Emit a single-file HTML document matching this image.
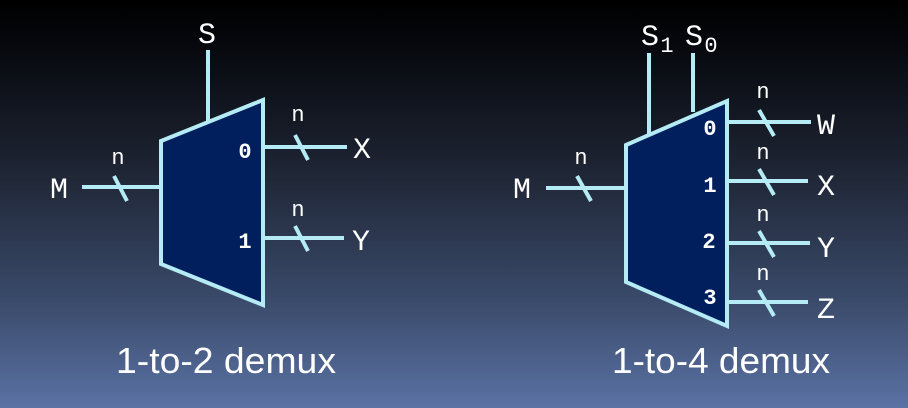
<!DOCTYPE html>
<html><head><style>
html,body{margin:0;padding:0;}
body{width:908px;height:408px;overflow:hidden;background:linear-gradient(to bottom,#000 0px,#05070c 40px,#1c2230 160px,#3a4a6a 300px,#5a72a4 408px);}
svg{display:block}
.mono{font-family:"Liberation Mono",monospace;fill:#fff;}
.b{font-family:"Liberation Mono",monospace;font-weight:bold;fill:#fff;font-size:22px;}
</style></head><body>
<svg width="908" height="408" viewBox="0 0 908 408">
<g stroke="#b4ebf5" stroke-width="4" fill="none">
<polygon points="161,141 263,100 263,305 161,264" fill="#001f5c"/>
<line x1="208" y1="50" x2="208" y2="122"/>
<line x1="82" y1="187" x2="161" y2="187"/>
<line x1="114" y1="176" x2="127" y2="201"/>
<line x1="263" y1="147" x2="347" y2="147"/>
<line x1="295" y1="135" x2="308" y2="160"/>
<line x1="263" y1="238" x2="344" y2="238"/>
<line x1="295" y1="226" x2="308" y2="251"/>
<polygon points="626,145 727,101 727,326 626,282" fill="#001f5c"/>
<line x1="649" y1="53" x2="649" y2="135"/>
<line x1="693" y1="53" x2="693" y2="112"/>
<line x1="546" y1="188" x2="626" y2="188"/>
<line x1="577" y1="176" x2="591" y2="201"/>
<line x1="727" y1="122" x2="811" y2="122"/>
<line x1="759" y1="110" x2="774" y2="136"/>
<line x1="727" y1="181" x2="808" y2="181"/>
<line x1="759" y1="169" x2="774" y2="195"/>
<line x1="727" y1="243" x2="810" y2="243"/>
<line x1="759" y1="231" x2="774" y2="257"/>
<line x1="727" y1="302" x2="808" y2="302"/>
<line x1="759" y1="290" x2="774" y2="316"/>
</g>
<g class="mono" font-size="30" text-anchor="middle">
<text x="207" y="43">S</text>
<text x="59" y="198">M</text>
<text x="362" y="158">X</text>
<text x="361" y="250">Y</text>
<text x="522" y="198">M</text>
<text x="826" y="134">W</text>
<text x="826" y="195">X</text>
<text x="826" y="257">Y</text>
<text x="826" y="318">Z</text>
<text x="650" y="45">S</text>
<text x="694" y="45">S</text>
</g>
<g class="mono" font-size="22" text-anchor="middle">
<text x="667" y="52">1</text>
<text x="711" y="52">0</text>
<text x="118" y="164">n</text>
<text x="298" y="121">n</text>
<text x="298" y="216">n</text>
<text x="581" y="164">n</text>
<text x="763" y="98">n</text>
<text x="763" y="159">n</text>
<text x="763" y="221">n</text>
<text x="763" y="280">n</text>
</g>
<g class="b" text-anchor="middle">
<text x="245" y="158">0</text>
<text x="245" y="248">1</text>
<text x="710" y="135">0</text>
<text x="710" y="192">1</text>
<text x="709" y="248">2</text>
<text x="710" y="304">3</text>
</g>
<g font-family="Liberation Sans,sans-serif" font-size="36" fill="#fff">
<text x="116" y="373" textLength="220" lengthAdjust="spacingAndGlyphs">1-to-2 demux</text>
<text x="612" y="373" textLength="218" lengthAdjust="spacingAndGlyphs">1-to-4 demux</text>
</g>
</svg>
</body></html>
